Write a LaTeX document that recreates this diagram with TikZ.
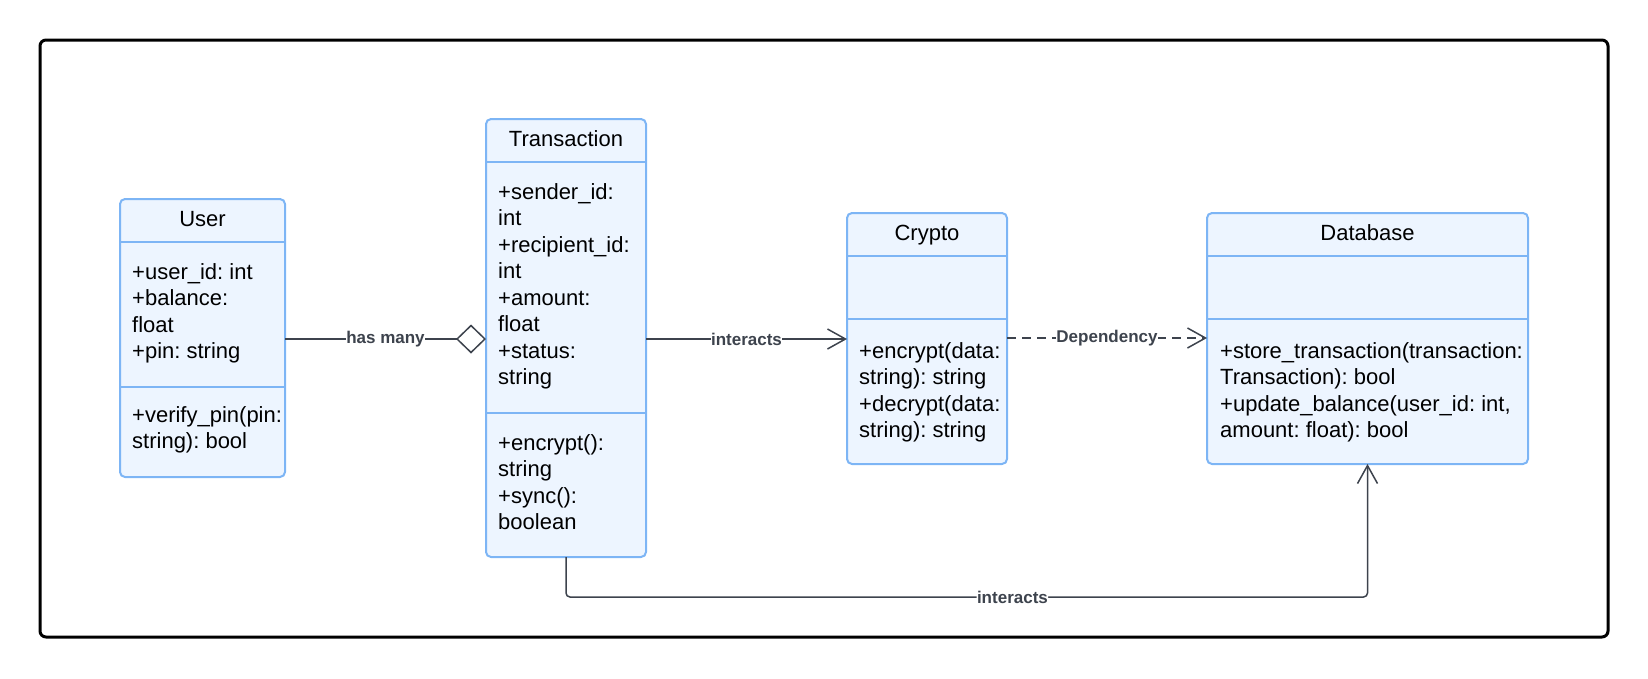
\documentclass[tikz,border=0pt]{standalone}
\usepackage{fontspec}
\setmainfont{Liberation Sans}
\usetikzlibrary{arrows.meta}
\definecolor{boxfill}{HTML}{EDF5FF}
\definecolor{boxline}{HTML}{7DB5F5}
\definecolor{connc}{HTML}{3D434D}
\newcommand{\ufont}{\fontsize{22}{26.5}\selectfont\frenchspacing}
\newcommand{\lfont}{\fontsize{17}{20}\selectfont\bfseries\frenchspacing}
\begin{document}
\begin{tikzpicture}[x=1pt,y=-1pt,
  cls/.style={draw=boxline, fill=boxfill, line width=2pt, rounded corners=5pt, inner sep=0pt, outer sep=0pt},
  divider/.style={draw=boxline, line width=2pt},
  ctitle/.style={anchor=base, font=\ufont, inner sep=0pt},
  members/.style={anchor=north west, align=left, font=\ufont, inner sep=0pt},
  conn/.style={draw=connc, line width=1.5pt},
  lbl/.style={font=\lfont, text=connc, fill=white, inner sep=0.3pt},
  openarrow/.style={-{Straight Barb[length=18pt,width=20pt]}}
]
\useasboundingbox (0,0) rectangle (1648,678);
\draw[line width=3pt, rounded corners=6pt] (40,40) rectangle (1608,637);

% User
\node[cls, minimum width=165pt, minimum height=278pt] (user) at (202.5,338) {};
\draw[divider] (user.west |- 0,242) -- (user.east |- 0,242);
\draw[divider] (user.west |- 0,387) -- (user.east |- 0,387);
\node[ctitle] (usert) at (202.5,226) {User};
\node[members] (usera) at (132,260.5) {\strut+user\_id: int\\+balance:\\float\\+pin: string};
\node[members] (userm) at (132,403.5) {\strut+verify\_pin(pin:\\string): bool};

% Transaction
\node[cls, minimum width=160pt, minimum height=438pt] (trans) at (566,338) {};
\draw[divider] (trans.west |- 0,162) -- (trans.east |- 0,162);
\draw[divider] (trans.west |- 0,413) -- (trans.east |- 0,413);
\node[ctitle] (transt) at (566,146) {Transaction};
\node[members] (transa) at (498,180.5) {\strut+sender\_id:\\int\\+recipient\_id:\\int\\+amount:\\float\\+status:\\string};
\node[members] (transm) at (498,431.5) {\strut+encrypt():\\string\\+sync():\\boolean};

% Crypto
\node[cls, minimum width=160pt, minimum height=251pt] (crypto) at (927,338.5) {};
\draw[divider] (crypto.west |- 0,256) -- (crypto.east |- 0,256);
\draw[divider] (crypto.west |- 0,319) -- (crypto.east |- 0,319);
\node[ctitle] (cryptot) at (927,240) {Crypto};
\node[members] (cryptom) at (859,339.5) {\strut+encrypt(data:\\string): string\\+decrypt(data:\\string): string};

% Database
\node[cls, minimum width=321pt, minimum height=251pt] (db) at (1367.5,338.5) {};
\draw[divider] (db.west |- 0,256) -- (db.east |- 0,256);
\draw[divider] (db.west |- 0,319) -- (db.east |- 0,319);
\node[ctitle] (dbt) at (1367.5,240) {Database};
\node[members] (dbm) at (1220,339.5) {\strut+store\_transaction(transaction:\\Transaction): bool\\+update\_balance(user\_id: int,\\amount: float): bool};

% Connectors
\draw[conn, -{Diamond[open, length=30pt, width=29pt]}] (user.east |- 0,339) -- node[lbl] (l1) {has many} (trans.west |- 0,339);
\draw[conn, openarrow] (trans.east |- 0,339) -- node[lbl] (l2) {interacts} (crypto.west |- 0,339);
\draw[conn, openarrow, dash pattern=on 9pt off 6pt] (crypto.east |- 0,338) -- node[lbl] (l3) {Dependency} (db.west |- 0,338);
\coordinate (bot) at (0,597);
\draw[conn, openarrow, rounded corners=4pt] (trans.south) -- (trans.south |- bot) -- node[lbl, pos=0.557] (l4) {interacts} (db.south |- bot) -- (db.south);
\end{tikzpicture}
\end{document}
